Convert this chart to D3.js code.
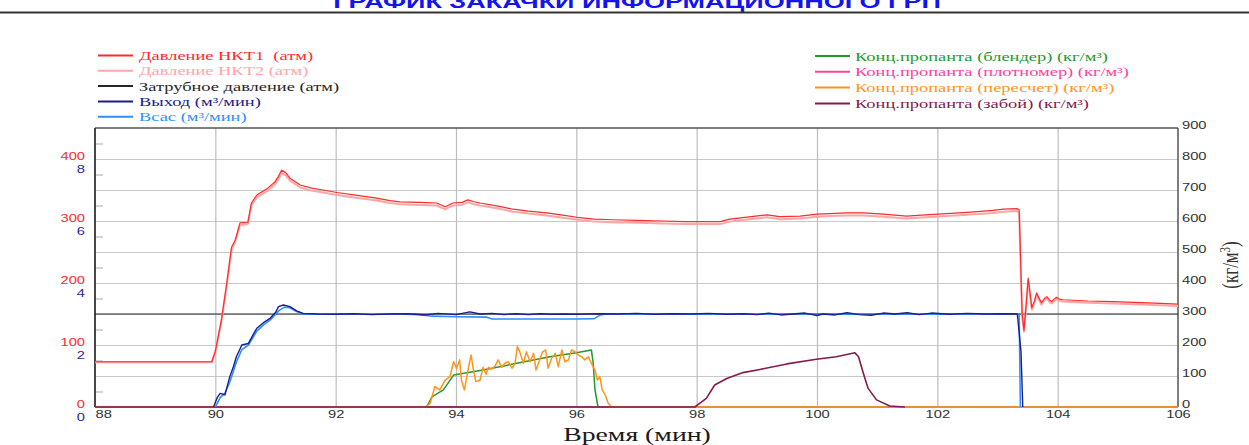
<!DOCTYPE html>
<html><head><meta charset="utf-8">
<script src="https://cdn.jsdelivr.net/npm/d3@7"></script>
<style>
html,body{margin:0;padding:0;background:#fff;}
svg{display:block;}
text{white-space:pre;}
</style></head><body>
<svg id="chart" width="1249" height="445"></svg>
<script>
// ---------- data ----------
const timeTicks = [88, 90, 92, 94, 96, 98, 100, 102, 104, 106];
const pressureTicks = [0, 100, 200, 300, 400];
const flowTicks = [0, 2, 4, 6, 8];
const concTicks = [0, 100, 200, 300, 400, 500, 600, 700, 800, 900];

const legendLeftLabels = ["Давление НКТ1  (атм)", "Давление НКТ2 (атм)", "Затрубное давление (атм)", "Выход (м³/мин)", "Всас (м³/мин)"];
const legendRightLabels = ["Конц.пропанта (блендер) (кг/м³)", "Конц.пропанта (плотномер) (кг/м³)", "Конц.пропанта (пересчет) (кг/м³)", "Конц.пропанта (забой) (кг/м³)"];

// tubing pressure, atm
const tPress = [88.0, 89.0, 89.94, 90.0, 90.1, 90.19, 90.27, 90.33, 90.41, 90.54, 90.6, 90.69, 90.87, 90.99, 91.05, 91.1, 91.17, 91.24, 91.41, 91.6, 91.79, 92.02, 92.3, 92.68, 92.9, 93.07, 93.4, 93.68, 93.82, 93.95, 94.1, 94.2, 94.3, 94.4, 94.7, 94.95, 95.2, 95.51, 95.8, 96.01, 96.3, 96.61, 97.0, 97.44, 97.8, 98.0, 98.39, 98.55, 98.8, 99.17, 99.38, 99.72, 100.0, 100.21, 100.5, 100.77, 101.1, 101.49, 101.8, 102.15, 102.5, 102.93, 103.1, 103.32, 103.36, 103.38, 103.41, 103.44, 103.48, 103.51, 103.54, 103.57, 103.61, 103.65, 103.69, 103.73, 103.78, 103.82, 103.86, 103.9, 103.94, 103.98, 104.03, 104.09, 104.5, 104.92, 105.5, 106.0];
const pTubing1 = [73, 73, 73, 90, 140, 200, 258, 269, 297, 298, 329, 342, 353, 363, 372, 382, 378, 369, 358, 353, 350, 346, 342, 337, 333, 331, 330, 329, 323, 329, 330, 334, 331, 329, 324, 319, 316, 313, 309, 306, 303, 302, 301, 300, 299, 299, 299, 303, 306, 310, 307, 308, 311, 312, 313, 313, 311, 308, 310, 312, 314, 317, 319, 320, 318, 250, 150, 124, 170, 208, 185, 160, 170, 184, 176, 168, 175, 178, 173, 170, 174, 177, 174, 173, 171, 170, 168, 166];
const pTubing2 = [72, 72, 72, 88, 137, 196, 254, 266, 293, 295, 325, 338, 349, 359, 368, 377, 374, 365, 354, 349, 346, 342, 338, 333, 329, 327, 326, 325, 319, 325, 326, 330, 327, 325, 320, 315, 312, 309, 305, 302, 299, 298, 297, 296, 295, 295, 295, 299, 302, 306, 303, 304, 307, 308, 309, 309, 307, 304, 306, 308, 310, 313, 315, 316, 314, 245, 146, 121, 166, 204, 181, 157, 167, 180, 173, 165, 172, 175, 170, 167, 171, 174, 171, 170, 168, 167, 165, 163];

// annulus pressure, atm
const tAnnulus = [88, 106];
const pAnnulus = [150, 150];

// outlet rate, m3/min
const tOut = [89.97, 90.03, 90.08, 90.16, 90.24, 90.3, 90.35, 90.44, 90.55, 90.62, 90.69, 90.8, 90.91, 91.0, 91.05, 91.13, 91.24, 91.35, 91.46, 91.7, 92.0, 92.3, 92.6, 92.9, 93.2, 93.5, 93.7, 94.0, 94.23, 94.4, 94.6, 94.8, 95.0, 95.2, 95.4, 95.6, 95.8, 96.0, 96.2, 96.4, 96.7, 97.0, 97.3, 97.6, 97.9, 98.2, 98.5, 98.8, 99.0, 99.2, 99.4, 99.6, 99.8, 100.0, 100.1, 100.3, 100.5, 100.7, 100.9, 101.1, 101.3, 101.5, 101.7, 101.9, 102.2, 102.5, 102.8, 103.1, 103.33, 103.36, 103.39, 103.42];
const qOut = [0, 0.3, 0.44, 0.39, 0.98, 1.3, 1.62, 2.0, 2.05, 2.3, 2.54, 2.72, 2.86, 3.05, 3.24, 3.29, 3.24, 3.1, 3.02, 3.0, 2.99, 3.01, 2.98, 3.0, 3.01, 2.97, 3.02, 2.98, 3.07, 3.0, 3.02, 2.98, 3.01, 2.98, 3.01, 2.99, 3.0, 2.99, 3.0, 3.01, 3.0, 3.02, 2.99, 3.01, 3.0, 3.02, 2.99, 3.01, 2.98, 3.03, 2.97, 3.0, 3.03, 2.95, 3.0, 2.97, 3.04, 2.98, 2.96, 3.03, 3.0, 3.04, 2.98, 3.03, 2.99, 3.02, 3.0, 3.01, 3.0, 2.4, 1.8, 0];

// suction rate, m3/min
const tIn = [90.0, 90.08, 90.16, 90.24, 90.35, 90.44, 90.55, 90.69, 90.8, 90.91, 91.05, 91.15, 91.24, 91.35, 91.46, 92.0, 92.5, 93.0, 93.4, 93.6, 94.0, 94.5, 94.6, 95.0, 95.5, 96.0, 96.3, 96.4, 96.5, 97.0, 97.5, 98.0, 98.5, 99.0, 99.5, 100.0, 100.5, 101.0, 101.5, 102.0, 102.5, 103.0, 103.36, 103.38];
const qIn = [0, 0.3, 0.45, 0.8, 1.45, 1.85, 2.0, 2.45, 2.65, 2.8, 3.1, 3.22, 3.2, 3.08, 3.0, 3.0, 2.99, 3.0, 2.98, 2.93, 2.91, 2.9, 2.84, 2.84, 2.84, 2.84, 2.85, 2.97, 3.0, 3.0, 2.99, 3.0, 3.0, 2.99, 3.0, 3.0, 2.99, 3.0, 3.0, 2.99, 3.0, 3.0, 3.0, 0];

// proppant concentration, kg/m3
const tBlender = [93.51, 93.6, 93.79, 93.96, 94.45, 95.01, 95.56, 96.0, 96.25, 96.28, 96.31, 96.36];
const cBlender = [0, 33, 55, 103, 119, 141, 162, 175, 184, 142, 55, 0];

const tDensity = [];
const cDensity = [];

const tRecalc = [88.0, 93.48, 93.57, 93.65, 93.73, 93.82, 93.9, 93.96, 94.01, 94.06, 94.09, 94.14, 94.21, 94.25, 94.29, 94.33, 94.4, 94.45, 94.5, 94.54, 94.59, 94.65, 94.7, 94.76, 94.81, 94.87, 94.93, 94.98, 95.02, 95.06, 95.12, 95.17, 95.23, 95.29, 95.33, 95.39, 95.44, 95.49, 95.53, 95.59, 95.65, 95.7, 95.76, 95.81, 95.87, 95.92, 95.98, 96.03, 96.09, 96.14, 96.2, 96.25, 96.31, 96.35, 96.39, 96.43, 96.48, 96.53, 96.59, 106.0];
const cRecalc = [0, 0, 12, 66, 55, 87, 98, 146, 125, 152, 87, 55, 130, 168, 119, 82, 87, 128, 106, 128, 122, 132, 152, 128, 141, 146, 125, 141, 195, 178, 141, 178, 146, 173, 119, 152, 178, 184, 125, 157, 173, 130, 184, 146, 152, 184, 178, 168, 162, 152, 162, 141, 119, 87, 98, 55, 39, 12, 0, 0];

const tBottomhole = [88.0, 97.97, 98.05, 98.16, 98.3, 98.5, 98.77, 99.05, 99.5, 99.99, 100.32, 100.63, 100.69, 100.77, 100.85, 100.99, 101.21, 101.46];
const cBottomhole = [0, 0, 12, 28, 71, 92, 111, 121, 139, 154, 162, 175, 162, 109, 60, 23, 3, 0];

// ---------- layout ----------
const SX = 1.5;            // horizontal stretch applied to all lettering
const svg = d3.select("#chart");
const plot = {left: 95, right: 1178, top: 128, bottom: 407};

const x = d3.scaleLinear().domain([88, 106]).range([plot.left, plot.right]);
const yP = d3.scaleLinear().domain([0, 450]).range([plot.bottom, plot.top]);
const yQ = d3.scaleLinear().domain([0, 9]).range([plot.bottom, plot.top]);
const yC = d3.scaleLinear().domain([0, 900]).range([plot.bottom, plot.top]);

const COL = {
  tub1: "#ff2a2a", tub2: "#ffa6a6", ann: "#262626", out: "#1c1c8e", inl: "#2f8fff",
  blend: "#1f9a2e", dens: "#ff3fa0", recalc: "#ff9419", bottom: "#851a4c"
};

svg.append("rect").attr("width", 1249).attr("height", 445).attr("fill", "#fff");

// stretched text helper
function sText(parent, px, py, str, size, family, color, anchor, weight) {
  return parent.append("text")
    .attr("transform", `translate(${px},${py}) scale(${SX},1)`)
    .attr("font-family", family).attr("font-size", size)
    .attr("font-weight", weight || "normal")
    .attr("fill", color).attr("text-anchor", anchor || "start")
    .text(str);
}
function stretchAxisText(sel, sx) {
  sel.selectAll("text").each(function () {
    const x0 = +this.getAttribute("x") || 0;
    d3.select(this).attr("x", x0 / sx).attr("transform", `scale(${sx},1)`);
  });
}

// title and top rule
sText(svg, 637, 8, "ГРАФИК ЗАКАЧКИ ИНФОРМАЦИОННОГО ГРП", 18, "Liberation Sans, Arial, sans-serif", "#1414ee", "middle", "bold");
svg.append("line").attr("x1", 0).attr("x2", 1249).attr("y1", 12.5).attr("y2", 12.5)
  .attr("stroke", "#333").attr("stroke-width", 2);

// ---------- legends ----------
const serif = "Liberation Serif, Times New Roman, serif";
const leftColors = [COL.tub1, COL.tub2, COL.ann, COL.out, COL.inl];
const rightColors = [COL.blend, COL.dens, COL.recalc, COL.bottom];
const lgL = svg.append("g");
legendLeftLabels.forEach((lab, i) => {
  const ly = 55.5 + i * 15.3;
  lgL.append("line").attr("x1", 98).attr("x2", 133).attr("y1", ly).attr("y2", ly)
    .attr("stroke", leftColors[i]).attr("stroke-width", 2);
  sText(lgL, 139, ly + 4.5, lab, 12.3, serif, leftColors[i]);
});
const lgR = svg.append("g");
legendRightLabels.forEach((lab, i) => {
  const ly = 56 + i * 15.8;
  lgR.append("line").attr("x1", 815).attr("x2", 850).attr("y1", ly).attr("y2", ly)
    .attr("stroke", rightColors[i]).attr("stroke-width", 2);
  sText(lgR, 855, ly + 4.5, lab, 12.3, serif, rightColors[i]);
});

// ---------- grid ----------
const grid = svg.append("g");
grid.append("g").attr("transform", `translate(${plot.left},0)`)
  .call(d3.axisLeft(yP).tickValues(d3.range(50, 450, 50)).tickSize(-(plot.right - plot.left)).tickFormat(""))
  .call(g => g.select(".domain").remove())
  .call(g => g.selectAll("line").attr("stroke", "#c9c9c9").attr("stroke-width", 1.2));
grid.append("g").attr("transform", `translate(0,${plot.bottom})`)
  .call(d3.axisBottom(x).tickValues(timeTicks.slice(1, -1)).tickSize(-(plot.bottom - plot.top)).tickFormat(""))
  .call(g => g.select(".domain").remove())
  .call(g => g.selectAll("line").attr("stroke", "#bdbdbd").attr("stroke-width", 1.2));

// minor ticks on the left edge
svg.append("g").attr("transform", `translate(${plot.left},0)`)
  .call(d3.axisRight(yP).tickValues(d3.range(25, 450, 50)).tickSize(8).tickFormat(""))
  .call(g => g.select(".domain").remove())
  .call(g => g.selectAll("line").attr("stroke", "#aaa"));

// frame
svg.append("line").attr("x1", plot.left).attr("x2", plot.right).attr("y1", plot.top).attr("y2", plot.top)
  .attr("stroke", "#555").attr("stroke-width", 1.5);
svg.append("line").attr("x1", plot.left).attr("x2", plot.left).attr("y1", plot.top).attr("y2", plot.bottom)
  .attr("stroke", "#333").attr("stroke-width", 1.8);
svg.append("line").attr("x1", plot.right).attr("x2", plot.right).attr("y1", plot.top).attr("y2", plot.bottom)
  .attr("stroke", "#555").attr("stroke-width", 1.5);
svg.append("line").attr("x1", plot.left).attr("x2", plot.right).attr("y1", plot.bottom).attr("y2", plot.bottom)
  .attr("stroke", "#8a5a6a").attr("stroke-width", 1.5);

// ---------- series ----------
const series = [
  {t: tAnnulus, v: pAnnulus, y: yP, c: COL.ann, w: 1.2},
  {t: tBlender, v: cBlender, y: yC, c: COL.blend, w: 1.5},
  {t: tDensity, v: cDensity, y: yC, c: COL.dens, w: 1.5},
  {t: tRecalc, v: cRecalc, y: yC, c: COL.recalc, w: 1.5},
  {t: tBottomhole, v: cBottomhole, y: yC, c: COL.bottom, w: 1.6},
  {t: tIn, v: qIn, y: yQ, c: COL.inl, w: 1.6},
  {t: tOut, v: qOut, y: yQ, c: COL.out, w: 1.4},
  {t: tPress, v: pTubing2, y: yP, c: COL.tub2, w: 2},
  {t: tPress, v: pTubing1, y: yP, c: COL.tub1, w: 1.2}
];
const lines = svg.append("g").attr("fill", "none").attr("stroke-linejoin", "round");
series.forEach(s => {
  if (!s.t.length) return;
  const gen = d3.line().x(i => x(s.t[i])).y(i => s.y(s.v[i]));
  lines.append("path").attr("d", gen(d3.range(s.t.length)))
    .attr("stroke", s.c).attr("stroke-width", s.w);
});

// ---------- axes ----------
const sans = "Liberation Sans, Arial, sans-serif";
const TSX = 1.4, TFS = 10.5;
const axP = svg.append("g").attr("transform", `translate(${plot.left},0)`)
  .call(d3.axisLeft(yP).tickValues(pressureTicks).tickSize(0).tickPadding(10))
  .call(g => g.select(".domain").remove());
axP.selectAll("text").attr("fill", "#ff2a2a").attr("font-family", sans).attr("font-size", TFS).attr("dy", "0.05em");
stretchAxisText(axP, TSX);

const axQ = svg.append("g").attr("transform", `translate(${plot.left},0)`)
  .call(d3.axisLeft(yQ).tickValues(flowTicks).tickSize(0).tickPadding(10))
  .call(g => g.select(".domain").remove());
axQ.selectAll("text").attr("fill", "#2a2a9a").attr("font-family", sans).attr("font-size", TFS).attr("dy", "1.25em");
stretchAxisText(axQ, TSX);

const axT = svg.append("g").attr("transform", `translate(0,${plot.bottom})`)
  .call(d3.axisBottom(x).tickValues(timeTicks).tickSize(0).tickPadding(4))
  .call(g => g.select(".domain").remove());
axT.selectAll("text").attr("fill", "#333").attr("font-family", sans).attr("font-size", TFS);
axT.selectAll("text").filter(d => d === 88).attr("text-anchor", "start");
stretchAxisText(axT, TSX);

const axC = svg.append("g").attr("transform", `translate(${plot.right},0)`)
  .call(d3.axisRight(yC).tickValues(concTicks).tickSize(0).tickPadding(4))
  .call(g => g.select(".domain").remove());
axC.selectAll("text").attr("fill", "#333").attr("font-family", sans).attr("font-size", TFS).attr("dy", "0.05em");
stretchAxisText(axC, TSX);

// axis titles
sText(svg, 637, 441, "Время (мин)", 18.5, serif, "#1a1a1a", "middle");
const yt = svg.append("text")
  .attr("transform", "translate(1238,265) scale(1.3,1) rotate(-90)")
  .attr("font-family", serif).attr("font-size", 17).attr("fill", "#333")
  .attr("text-anchor", "middle");
yt.append("tspan").text("(кг/м");
yt.append("tspan").attr("dy", -6).attr("font-size", 11).text("3");
yt.append("tspan").attr("dy", 6).text(")");
</script>
</body></html>
